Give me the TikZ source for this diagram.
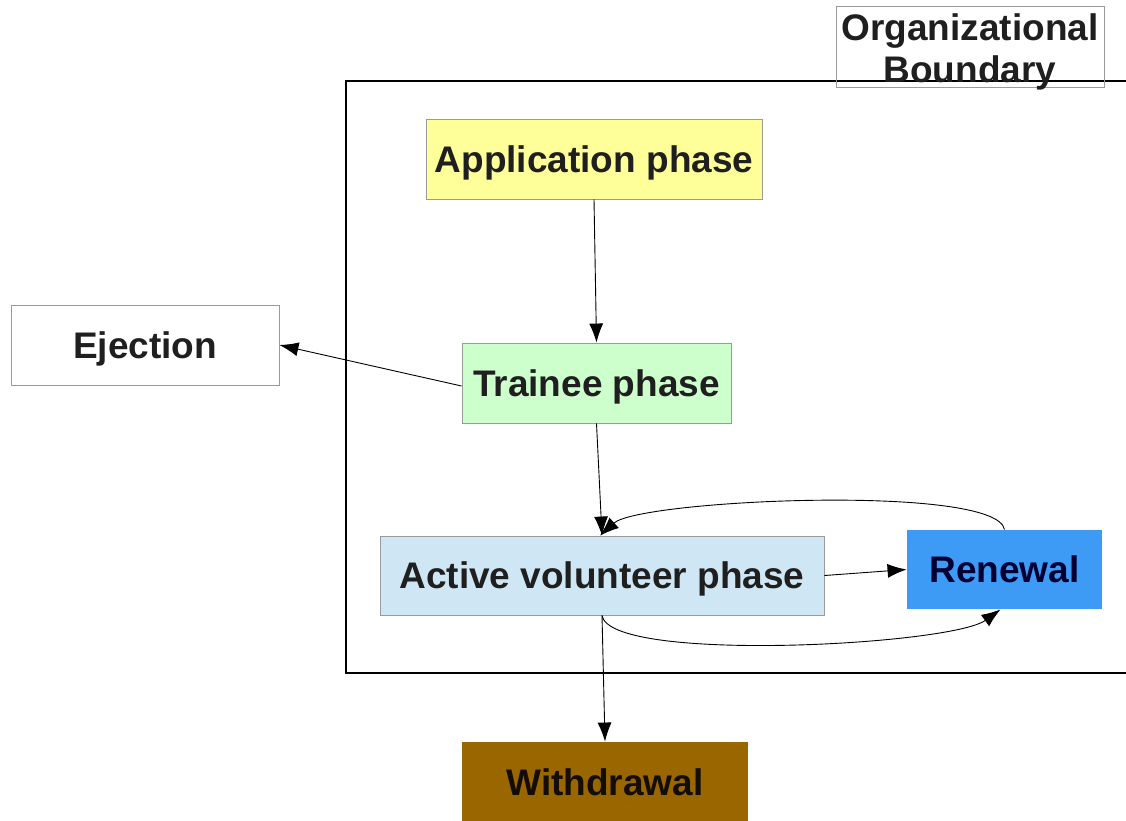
\documentclass[tikz,border=0pt]{standalone}
\usepackage{fontspec}
\setmainfont{Liberation Sans}
\usetikzlibrary{arrows.meta}
\definecolor{appyellow}{HTML}{FFFF99}
\definecolor{trgreen}{HTML}{CCFFCC}
\definecolor{actblue}{HTML}{CFE7F5}
\definecolor{renblue}{HTML}{3D9BF5}
\definecolor{wdbrown}{HTML}{996600}
\definecolor{boxgray}{HTML}{9A9A9A}
\begin{document}
\begin{tikzpicture}[x=1pt,y=-1pt,
  lbl/.style={inner sep=0pt, font=\fontsize{37}{42}\selectfont\bfseries, text=black!88},
  box/.style={lbl, draw=boxgray, line width=0.9pt, text height=26.5pt, text depth=0pt},
  arr/.style={draw=black, line width=0.9pt, -{Latex[length=19pt,width=14pt]}}]
\useasboundingbox[fill=white] (0,0) rectangle (1126,820);
% organizational boundary
\coordinate (btr) at (1126,81);
\coordinate (bbr) at (1126,673);
\draw[line width=1.3pt] (btr) -| (346,673) -- (bbr);
\node[draw=boxgray, line width=0.9pt, minimum width=268pt, minimum height=81pt] (org) at (970,46.5) {};
\node[lbl, align=center] (orgtext) at (970,52) {Organizational\\Boundary};
% nodes
\node[box, fill=appyellow, minimum width=336pt, minimum height=80pt] (app) at (594,159) {Application phase};
\node[box, fill=trgreen, minimum width=269pt, minimum height=80pt] (trainee) at (596.5,383) {Trainee phase};
\node[box, fill=white, minimum width=268pt, minimum height=80pt] (eject) at (145,345) {Ejection};
\node[box, fill=actblue, minimum width=444pt, minimum height=79pt] (active) at (602,575.5) {Active volunteer phase};
\node[box, draw=none, fill=renblue, text=black!80!blue, minimum width=195pt, minimum height=79pt] (renewal) at (1004.5,569.5) {Renewal};
\node[box, draw=none, fill=wdbrown, text=black!90!brown, minimum width=286pt, minimum height=80pt] (withdraw) at (605,782) {Withdrawal};
% connectors
\draw[arr] (app.south) -- (trainee.north);
\draw[arr] ([yshift=-3pt]trainee.west) -- (eject.east);
\draw[arr] (trainee.south) -- (active.north);
\draw[arr] (active.east) -- (renewal.west);
\draw[arr] (renewal.north) .. controls +(-8,-46) and +(40,-36) .. ([xshift=-2pt]active.north);
\draw[arr] (active.south) .. controls +(8,48) and +(-50,36) .. ([xshift=-4pt]renewal.south);
\draw[arr] (active.south) -- (withdraw.north);
\end{tikzpicture}
\end{document}
